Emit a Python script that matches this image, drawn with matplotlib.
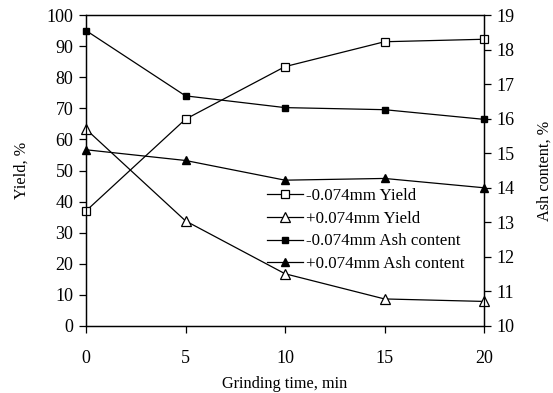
import matplotlib
matplotlib.use("Agg")
import matplotlib.pyplot as plt

plt.rcParams['font.family'] = ['Liberation Serif', 'DejaVu Serif']

# grinding time, min
time_min = [0, 5, 10, 15, 20]
# yields, %
yield_minus = [37, 66.5, 83.4, 91.4, 92.2]
yield_plus = [63.3, 33.8, 16.8, 8.7, 7.9]
# ash content, %
ash_minus = [18.55, 16.66, 16.32, 16.26, 15.98]
ash_plus = [15.1, 14.79, 14.22, 14.27, 14.0]

labels = ["-0.074mm Yield", "+0.074mm Yield",
          "-0.074mm Ash content", "+0.074mm Ash content"]

fig = plt.figure(figsize=(5.53, 3.93), dpi=100)
ax = fig.add_axes([86 / 553, 1 - 326 / 393, (484 - 86) / 553, (326 - 15) / 393])
ax2 = ax.twinx()

lw = 0.9
h1, = ax.plot(time_min, yield_minus, color='black', lw=lw, marker='s', ms=6.3,
              mfc='white', mec='black', mew=0.9, label=labels[0], zorder=3, clip_on=False)
h2, = ax.plot(time_min, yield_plus, color='black', lw=lw, marker='^', ms=7.5,
              mfc='white', mec='black', mew=0.9, label=labels[1], zorder=3, clip_on=False)
h3, = ax2.plot(time_min, ash_minus, color='black', lw=lw, marker='s', ms=4.2,
               mfc='black', mec='black', label=labels[2], zorder=3, clip_on=False)
h4, = ax2.plot(time_min, ash_plus, color='black', lw=lw, marker='^', ms=5.5,
               mfc='black', mec='black', label=labels[3], zorder=3, clip_on=False)

ax.set_xlim(0, 20)
ax.set_ylim(0, 100)
ax2.set_ylim(10, 19)
ax.set_xticks(range(0, 21, 5))
ax.set_yticks(range(0, 101, 10))
ax2.set_yticks(range(10, 20, 1))

for a in (ax, ax2):
    a.tick_params(direction='out', length=5, width=0.9, labelsize=13, pad=4)
    for s in a.spines.values():
        s.set_linewidth(0.9)
ax.tick_params(axis='x', pad=12)

ax.set_xlabel("Grinding time, min", fontsize=11.7, labelpad=7)
ax.set_ylabel("Yield, %", fontsize=11.7, labelpad=12)
ax2.set_ylabel("Ash content, %", fontsize=11.7, labelpad=16)

ax.legend(handles=[h1, h2, h3, h4], loc='upper left', bbox_to_anchor=(0.455, 0.444),
          frameon=False, fontsize=12.2, handlelength=2.1, handletextpad=0.2,
          labelspacing=0.4, borderaxespad=0, borderpad=0)

fig.savefig("out.png", dpi=100)
